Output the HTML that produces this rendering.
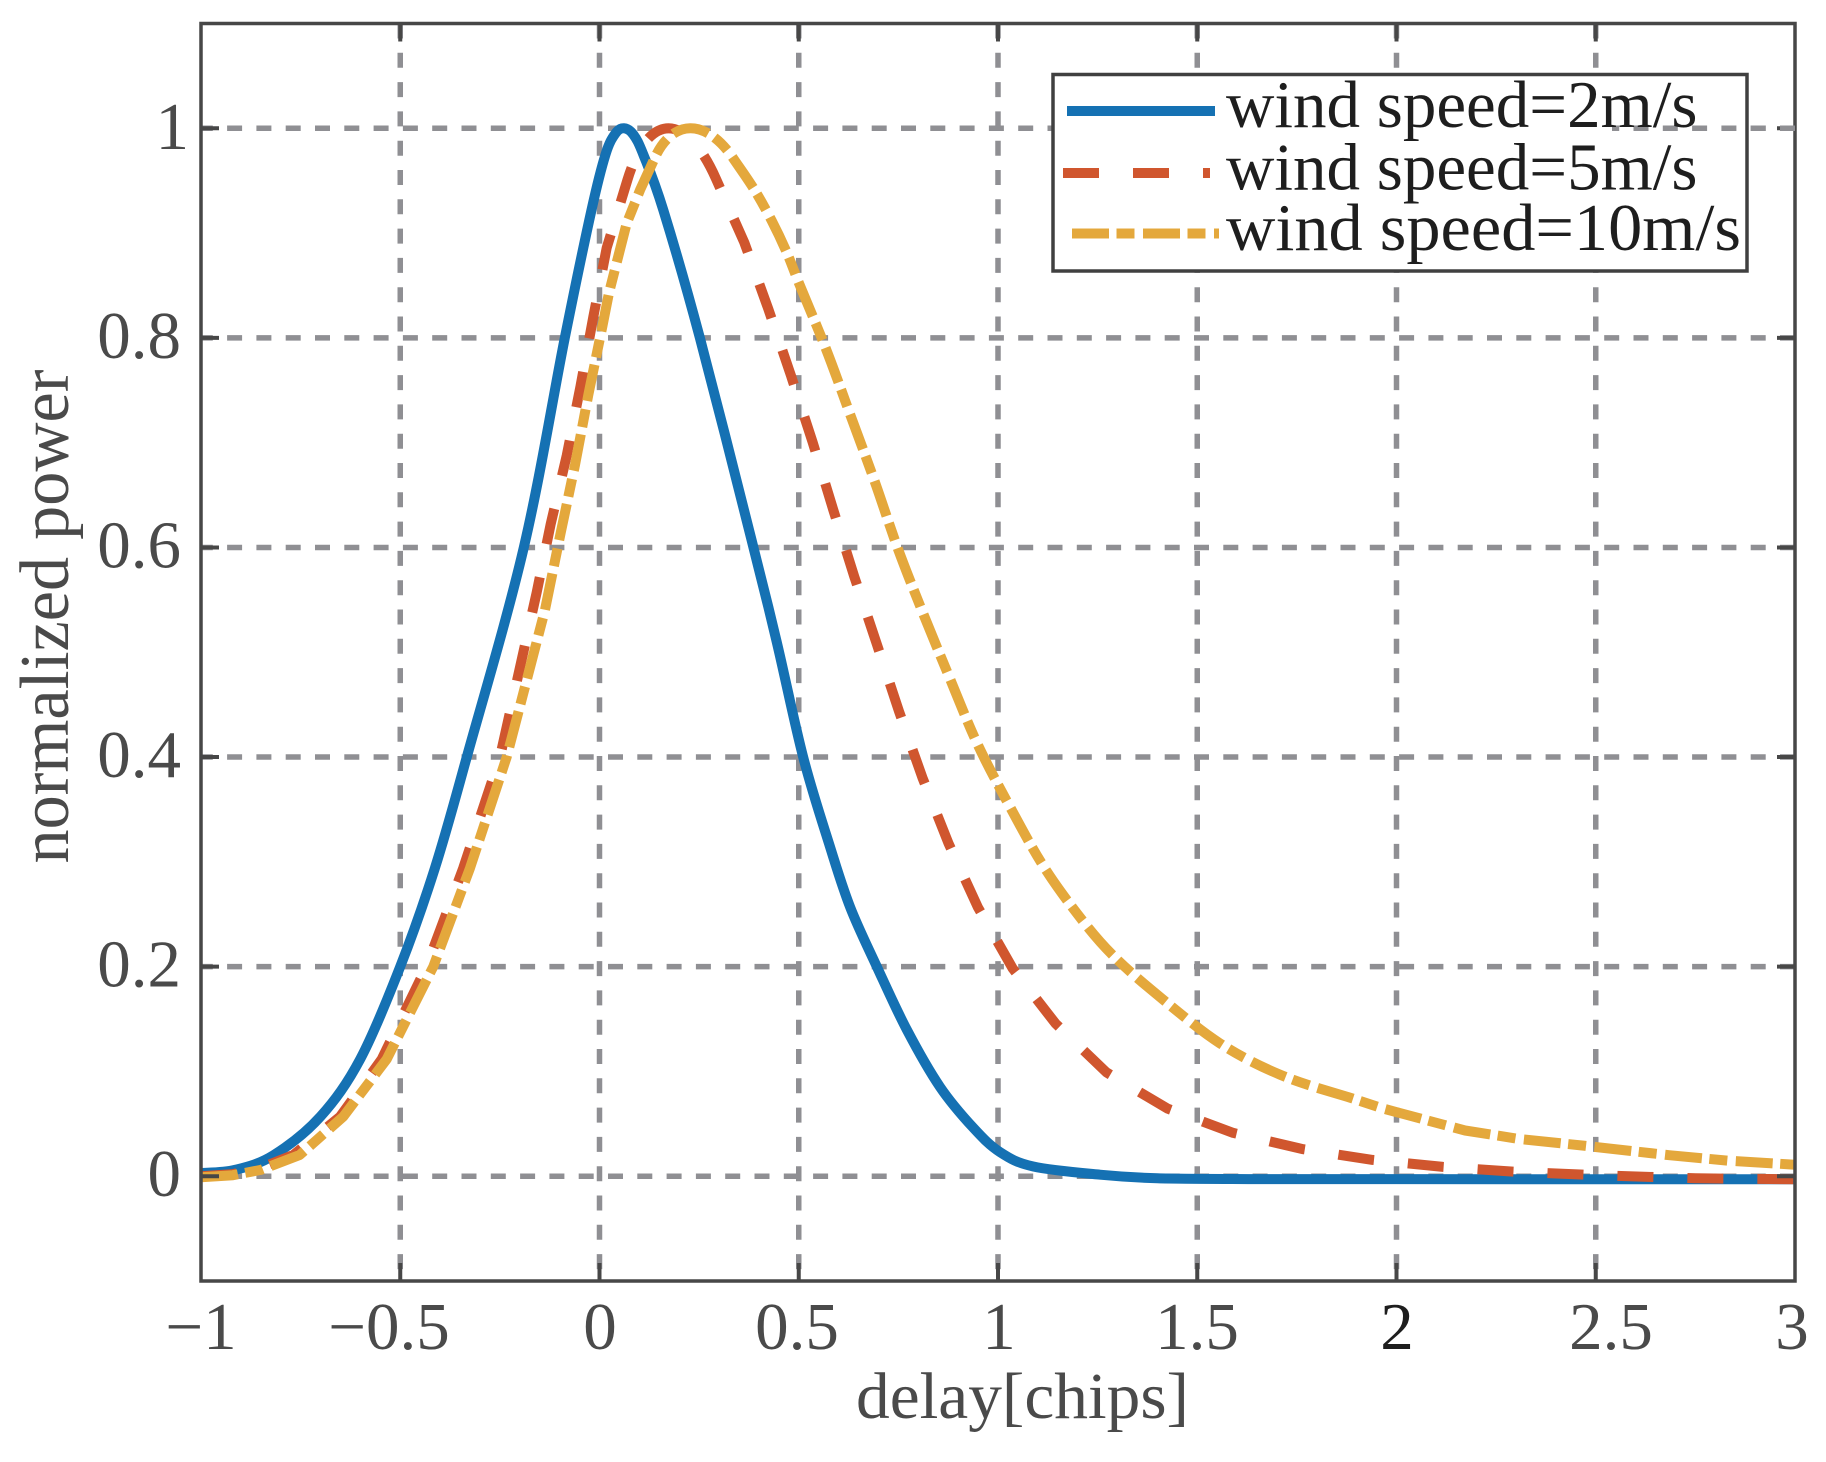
<!DOCTYPE html>
<html>
<head>
<meta charset="utf-8">
<style>
html,body{margin:0;padding:0;background:#ffffff;}
svg{display:block;}
</style>
</head>
<body>
<svg width="1826" height="1462" viewBox="0 0 1826 1462" xmlns="http://www.w3.org/2000/svg" font-family="'Liberation Serif', 'Times New Roman', serif">
<rect x="0" y="0" width="1826" height="1462" fill="#ffffff"/>

<!-- grid -->
<g stroke="#8f8f93" stroke-width="5.5" stroke-dasharray="15 14.3" fill="none">
  <path d="M400.25,23.5 V1281 M599.5,23.5 V1281 M798.75,23.5 V1281 M998,23.5 V1281 M1197.25,23.5 V1281 M1396.5,23.5 V1281 M1595.75,23.5 V1281"/>
  <path d="M1795,1176.2 H201 M1795,966.6 H201 M1795,757 H201 M1795,547.5 H201 M1795,337.9 H201 M1795,128.3 H201"/>
</g>

<!-- curves -->
<g fill="none" stroke-width="10" stroke-linejoin="round">
  <path stroke="#1571b3" d="M201,1173.1
    C206.65,1172.57 222.82,1172.88 234.9,1169.9
    C246.98,1166.92 259.23,1164.1 273.5,1155.2
    C287.77,1146.3 306.02,1132.57 320.5,1116.5
    C334.98,1100.43 347.11,1083.78 360.4,1058.8
    C373.69,1033.82 387.83,998.38 400.25,966.6
    C412.67,934.82 423.81,903.03 434.9,868.1
    C445.99,833.17 451.98,810.43 466.8,757
    C481.62,703.57 507.47,617.35 523.8,547.5
    C540.13,477.65 553.52,394.15 564.8,337.9
    C576.08,281.65 584.72,240.57 591.5,210
    C598.28,179.43 601.52,167.25 605.5,154.5
    C609.48,141.75 612.32,137.87 615.4,133.5
    C618.48,129.13 621,128.12 624,128.3
    C627,128.48 630.18,130.23 633.4,134.6
    C636.62,138.97 638.32,141.93 643.3,154.5
    C648.28,167.07 653.87,179.43 663.3,210
    C672.73,240.57 685.18,282.88 699.9,337.9
    C714.62,392.92 738.8,489.45 751.6,540.1
    C764.4,590.75 768.08,605.55 776.7,641.8
    C785.32,678.05 794.45,723.55 803.3,757.6
    C812.15,791.65 821.98,821.15 829.8,846.1
    C837.62,871.05 842.37,887.22 850.2,907.3
    C858.03,927.38 867.38,946.23 876.8,966.6
    C886.22,986.97 896.17,1009.45 906.7,1029.5
    C917.23,1049.55 928.9,1070.52 940,1086.9
    C951.1,1103.28 963.28,1116.92 973.3,1127.8
    C983.32,1138.68 990.1,1145.75 1000.1,1152.2
    C1010.1,1158.65 1016.65,1162.75 1033.3,1166.5
    C1049.95,1170.25 1079.32,1172.73 1100,1174.7
    C1120.68,1176.67 1132.4,1177.57 1157.4,1178.3
    C1182.4,1179.03 1234.57,1178.97 1250,1179.1
    L1795,1179.3"/>
  <path stroke="#d0562e" stroke-dasharray="36 34" d="M201,1176.2 L232.9,1174.1 L260.8,1167.8 L293.5,1154.9 L340.1,1116.6 L381.7,1059.2 L426.5,966.6 L463.2,868.1 L500.0,757.0 L536.7,592.3 L550.7,524.0 L566.7,455.6 L580.4,386.7 L593.3,316.9 L606.7,247.8 L627.4,180.0 C648.3,111.3 686,111.3 715.9,178.6 L744.3,242.5 L768.3,308.9 L791.0,375.7 L812.7,442.4 L833.3,510.0 L854.3,576.7 L876.8,644.1 L899.0,711.3 L922.4,777.6 L948.5,843.3 L977.9,907.3 L1012.8,968.6 L1055.7,1023.7 L1106.4,1072.3 L1167.5,1108.6 L1233.2,1132.9 L1303.2,1149.2 L1372.5,1159.9 L1443.0,1166.9 L1512.9,1171.6 L1595.75,1175.2 L1695.4,1178.3 L1795,1179.3"/>
  <path stroke="#e4a83c" stroke-dasharray="37 7.5 18 8.5" d="M201,1177.2 L232.9,1175.2 L260.8,1169.9 L299.8,1154.9 L343.3,1116.6 L386.7,1059.2 L433.3,966.6 L470.0,868.1 L506.7,757.0 L544.9,610.3 L560.6,533.3 L575.0,465.0 L588.3,395.0 L602.3,326.7 L609.0,292.8 L626.6,223.6 L640.0,190.1 L654.9,157.6 C672.9,118.4 706.3,118.4 733.3,158.4
    C739.8,168.0 747.6,178.72 754,189.1
    C760.4,199.48 766.25,210.17 771.7,220.7
    C777.15,231.23 782.1,241.75 786.7,252.3
    C791.3,262.85 792.75,267.88 799.3,284
    C805.85,300.12 817.45,327.05 826,349
    C834.55,370.95 842.43,393.48 850.6,415.7
    C858.77,437.92 867.1,460.08 875,482.3
    C882.9,504.52 889.83,526.78 898,549
    C906.17,571.22 915.33,593.97 924,615.6
    C932.67,637.23 941.08,657.38 950,678.8
    C958.92,700.22 967.47,722.68 977.5,744.1
    C987.53,765.52 998.95,786.55 1010.2,807.3
    C1021.45,828.05 1032.53,849.2 1045,868.6
    C1057.47,888.0 1073,908.57 1085,923.7
    C1097,938.83 1104.08,946.83 1117,959.4
    C1129.92,971.97 1145.33,985.1 1162.5,999.1
    C1179.67,1013.1 1200.43,1030.82 1220,1043.4
    C1239.57,1055.98 1258.58,1065.67 1279.9,1074.6
    C1301.22,1083.53 1317.03,1087.68 1347.9,1097
    L1383.4,1108.6 L1465.1,1130.5 L1518.7,1138.9 L1585.7,1145.9 L1669.1,1155.2 L1729.6,1160.8 L1795,1164.7"/>
</g>

<!-- axes box -->
<rect x="201" y="23.5" width="1594" height="1257.5" fill="none" stroke="#474747" stroke-width="3.5"/>
<g stroke="#474747" stroke-width="4" fill="none">
  <path d="M400.25,1281 V1263 M599.5,1281 V1263 M798.75,1281 V1263 M998,1281 V1263 M1197.25,1281 V1263 M1396.5,1281 V1263 M1595.75,1281 V1263"/>
  <path d="M400.25,23.5 V41.5 M599.5,23.5 V41.5 M798.75,23.5 V41.5 M998,23.5 V41.5 M1197.25,23.5 V41.5 M1396.5,23.5 V41.5 M1595.75,23.5 V41.5"/>
  <path d="M201,1176.2 H219 M201,966.6 H219 M201,757 H219 M201,547.5 H219 M201,337.9 H219 M201,128.3 H219"/>
  <path d="M1795,1176.2 H1777 M1795,966.6 H1777 M1795,757 H1777 M1795,547.5 H1777 M1795,337.9 H1777 M1795,128.3 H1777"/>
</g>

<!-- x tick labels -->
<g font-size="67" fill="#4a4a4a" text-anchor="middle">
  <text x="201" y="1349">−1</text>
  <text x="389" y="1349">−0.5</text>
  <text x="600" y="1349">0</text>
  <text x="797" y="1349">0.5</text>
  <text x="999" y="1349">1</text>
  <text x="1197" y="1349">1.5</text>
  <text x="1397" y="1349" fill="#1e1e1e">2</text>
  <text x="1611" y="1349">2.5</text>
  <text x="1792" y="1349">3</text>
</g>

<!-- y tick labels -->
<g font-size="67" fill="#4a4a4a" text-anchor="end">
  <text x="181" y="1196">0</text>
  <text x="181" y="986.6">0.2</text>
  <text x="181" y="777">0.4</text>
  <text x="181" y="567.5">0.6</text>
  <text x="181" y="358">0.8</text>
  <text x="189" y="149">1</text>
</g>

<!-- axis labels -->
<text x="856" y="1418" font-size="66" fill="#4a4a4a" textLength="333" lengthAdjust="spacingAndGlyphs">delay[chips]</text>
<text transform="translate(68,616.5) rotate(-90)" text-anchor="middle" font-size="70" fill="#4a4a4a" textLength="494" lengthAdjust="spacingAndGlyphs">normalized power</text>

<!-- legend -->
<rect x="1053" y="74.5" width="694" height="196.5" fill="#ffffff" stroke="#404040" stroke-width="3.5"/>
<path d="M1795,128.3 H1612" stroke="#8f8f93" stroke-width="5.5" stroke-dasharray="15 14.3" fill="none"/>
<g fill="none" stroke-width="10">
  <path d="M1067,111 H1215" stroke="#1571b3"/>
  <path d="M1063,173 H1210" stroke="#d0562e" stroke-dasharray="36 34"/>
  <path d="M1072,233.5 H1219" stroke="#e4a83c" stroke-dasharray="37 7.5 18 8.5"/>
</g>
<g font-size="67" fill="#1e1e1e">
  <text x="1226" y="127">wind speed=2m/s</text>
  <text x="1226" y="189.5">wind speed=5m/s</text>
  <text x="1226" y="250" textLength="515" lengthAdjust="spacingAndGlyphs">wind speed=10m/s</text>
</g>
</svg>
</body>
</html>
